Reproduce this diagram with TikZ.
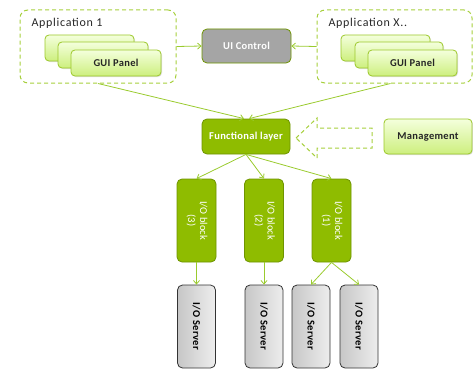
\documentclass[tikz,border=0pt]{standalone}
\usepackage{fontspec}
\setmainfont{Carlito}
\newfontfamily\appfont[LetterSpace=6]{Carlito}
\newfontfamily\boldlbl[LetterSpace=3]{Carlito}
\usetikzlibrary{arrows.meta,shadows,calc}
\definecolor{dg}{HTML}{8FBC00}
\definecolor{dgborder}{HTML}{6E9400}
\definecolor{lgtop}{HTML}{F4FFDC}
\definecolor{lgbot}{HTML}{CDEF7E}
\definecolor{lgborder}{HTML}{9CC82A}
\definecolor{dashgreen}{HTML}{A6CF3C}
\definecolor{arrowgreen}{HTML}{9ACB2E}
\definecolor{uigray}{HTML}{A5A5A5}
\tikzset{
  lightbox/.style={draw=lgborder, line width=0.8pt, rounded corners=4pt,
    top color=lgtop, bottom color=lgbot, inner sep=0pt,
    font=\fontsize{10.5}{12}\boldlbl\bfseries, text=black!85,
    drop shadow={opacity=0.25, shadow xshift=1pt, shadow yshift=-1pt}},
  darkbox/.style={draw=dgborder, line width=0.8pt, rounded corners=5pt,
    fill=dg, inner sep=0pt, text=white,
    font=\fontsize{10.5}{12}\boldlbl\bfseries},
  blockbox/.style={darkbox, font=\fontsize{10.5}{12}\selectfont,
    minimum width=39pt, minimum height=83pt, align=center},
  serverbox/.style={draw=black!80, line width=0.8pt, rounded corners=5pt,
    left color=black!22, right color=black!7, inner sep=0pt,
    font=\fontsize{10.5}{12}\boldlbl\bfseries, text=black,
    minimum width=38pt, minimum height=83pt},
  uibox/.style={draw=dgborder, line width=0.8pt, rounded corners=5pt,
    fill=uigray, inner sep=0pt, text=white,
    font=\fontsize{10.5}{12}\boldlbl\bfseries},
  appbox/.style={draw=dashgreen, line width=1pt, dash pattern=on 4pt off 3pt,
    rounded corners=8pt, inner sep=0pt},
  conn/.style={draw=arrowgreen, line width=0.8pt,
    -{Straight Barb[length=3.5pt,width=6pt,line width=0.8pt]}},
  plainconn/.style={draw=arrowgreen, line width=0.8pt}
}
\begin{document}
\begin{tikzpicture}[x=1pt,y=-1pt]
\useasboundingbox (0,0) rectangle (473,369);

% Application boxes
\node[appbox, minimum width=156pt, minimum height=73pt] (app1) at (98,46.5) {};
\node[appbox, minimum width=155pt, minimum height=73pt] (appx) at (394.5,46.5) {};
\node[anchor=base west, font=\fontsize{12}{14}\appfont, text=black!85] (app1lbl) at (28,27) {Application 1};
\node[anchor=base west, font=\fontsize{12}{14}\appfont, text=black!85] (appxlbl) at (325,27) {Application X..};

% GUI panels (left)
\node[lightbox, minimum width=89pt, minimum height=26pt] (g1a) at (89.5,48) {};
\node[lightbox, minimum width=90pt, minimum height=26pt] (g1b) at (103,55) {};
\node[lightbox, minimum width=90pt, minimum height=26pt] (g1c) at (116,63) {GUI Panel};
% GUI panels (right)
\node[lightbox, minimum width=89pt, minimum height=26pt] (gxa) at (385.5,48) {};
\node[lightbox, minimum width=88pt, minimum height=26pt] (gxb) at (399,55) {};
\node[lightbox, minimum width=89pt, minimum height=26pt] (gxc) at (412.5,63) {GUI Panel};

% UI Control
\node[uibox, minimum width=89pt, minimum height=34pt] (ui) at (246.5,46) {UI Control};

% Functional layer and management
\node[darkbox, minimum width=88pt, minimum height=35pt] (func) at (246,136.5) {Functional layer};
\node[lightbox, minimum width=88pt, minimum height=35pt] (mgmt) at (428,136.5) {Management};

% Hollow dashed arrow
\draw[draw=dashgreen, line width=1pt, dash pattern=on 4pt off 3pt]
  (296,138) -- (317,118) -- (317,128) -- (372,128) -- (372,148) -- (317,148) -- (317,158) -- cycle;

% I/O blocks
\node[blockbox] (b3) at (196.5,220.5) {\rotatebox{-90}{\begin{tabular}{@{}c@{}}I/O block\\(3)\end{tabular}}};
\node[blockbox] (b2) at (264,220.5) {\rotatebox{-90}{\begin{tabular}{@{}c@{}}I/O block\\(2)\end{tabular}}};
\node[blockbox] (b1) at (331.5,220.5) {\rotatebox{-90}{\begin{tabular}{@{}c@{}}I/O block\\(1)\end{tabular}}};

% I/O servers
\node[serverbox] (s1) at (196.5,326.5) {\rotatebox{-90}{I/O Server}};
\node[serverbox] (s2) at (264,326.5) {\rotatebox{-90}{I/O Server}};
\node[serverbox] (s3) at (311,326.5) {\rotatebox{-90}{I/O Server}};
\node[serverbox] (s4) at (359,326.5) {\rotatebox{-90}{I/O Server}};

% Connectors
\draw[conn] (app1.east) -- (ui.west);
\draw[conn] (appx.west) -- (ui.east);
\draw[conn] (app1.south) -- ($(func.north)+(-2,0)$);
\draw[conn] ($(appx.south)+(-4,0)$) -- ($(func.north)+(3,0)$);
\draw[conn] (func.south) -- (b3.north);
\draw[conn] (func.south) -- (b2.north);
\draw[conn] (func.south) -- (b1.north);
\draw[conn] (b3.south) -- (s1.north);
\draw[conn] (b2.south) -- (s2.north);
\draw[conn] (b1.south) -- (s3.north);
\draw[conn] (b1.south) -- (s4.north);
\end{tikzpicture}
\end{document}
